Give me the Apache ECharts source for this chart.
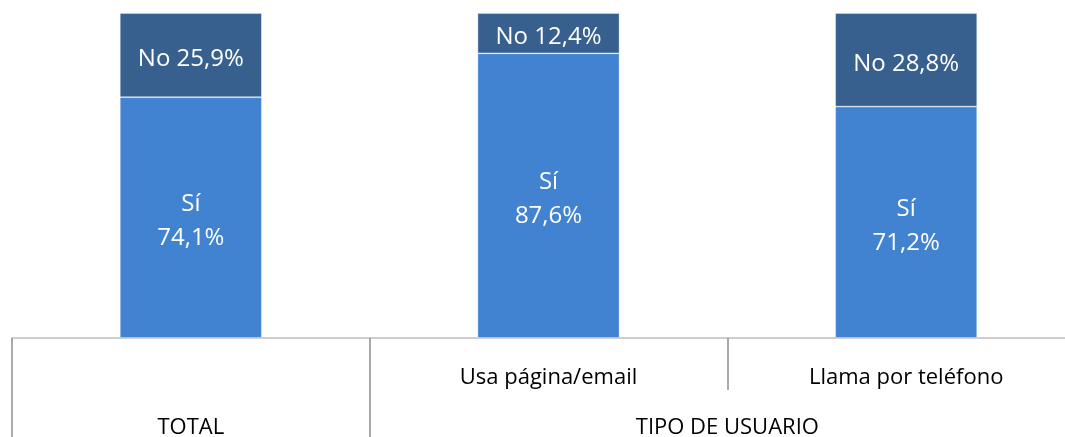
<!DOCTYPE html>
<html>
<head>
<meta charset="utf-8">
<script src="https://cdn.jsdelivr.net/npm/echarts@6/dist/echarts.min.js"></script>
<style>
  html, body { margin: 0; padding: 0; background: #fff; }
  #chart { width: 1065px; height: 437px; }
</style>
</head>
<body>
<div id="chart"></div>
<script>
// categorias (nivel inferior) y grupos (nivel superior)
const categories = ['', 'Usa página/email', 'Llama por teléfono'];
const groupLabels = ['TOTAL', 'TIPO DE USUARIO'];
const groupSpans = [1, 2]; // cuantas categorias abarca cada grupo

const siValues = [74.1, 87.6, 71.2];
const noValues = [25.9, 12.4, 28.8];

const fmt = v => v.toFixed(1).replace('.', ',') + '%';

// limites y centros de los grupos, en unidades de categoria
const groupEdges = [0];
groupSpans.forEach(s => groupEdges.push(groupEdges[groupEdges.length - 1] + s));
const groupCenters = groupSpans.map((s, i) => groupEdges[i] + s / 2);

const chart = echarts.init(document.getElementById('chart'));

const option = {
  animation: false,
  textStyle: { fontFamily: 'Open Sans' },
  grid: {
    left: 12,
    top: 13,
    width: 1073,
    bottom: 99,
    containLabel: false,
    outerBoundsMode: 'none'
  },
  xAxis: [
    {
      type: 'category',
      data: categories,
      position: 'bottom',
      axisLine: { show: true, lineStyle: { color: '#bfbfbf', width: 1.5 } },
      axisTick: { show: true, interval: 0, length: 52, lineStyle: { color: '#8f8f8f', width: 1.5 } },
      axisLabel: { interval: 0, margin: 29, fontSize: 22, color: '#000' }
    },
    {
      type: 'value',
      min: 0,
      max: categories.length,
      position: 'bottom',
      splitLine: { show: false },
      axisLine: { show: false },
      axisTick: {
        show: true,
        customValues: groupEdges,
        length: 99,
        lineStyle: { color: '#8f8f8f', width: 1.5 }
      },
      axisLabel: {
        customValues: groupCenters,
        margin: 79,
        fontSize: 22,
        color: '#000',
        formatter: v => groupLabels[groupCenters.indexOf(v)] || ''
      }
    }
  ],
  yAxis: {
    type: 'value',
    min: 0,
    max: 100,
    show: false
  },
  series: [
    {
      name: 'Sí',
      type: 'bar',
      stack: 'total',
      barWidth: 142,
      data: siValues,
      itemStyle: { color: '#4183d0', borderColor: 'rgba(255,255,255,0.45)', borderWidth: 0.8 },
      label: {
        show: true,
        position: 'inside',
        offset: [0, 4],
        color: '#fff',
        fontSize: 24,
        lineHeight: 34,
        formatter: p => 'Sí\n' + fmt(p.value)
      }
    },
    {
      name: 'No',
      type: 'bar',
      stack: 'total',
      barWidth: 142,
      data: noValues,
      itemStyle: { color: '#37608f', borderColor: 'rgba(255,255,255,0.45)', borderWidth: 0.8 },
      label: {
        show: true,
        position: 'inside',
        offset: [0, 4],
        color: '#fff',
        fontSize: 24,
        formatter: p => 'No ' + fmt(p.value)
      }
    }
  ]
};

chart.setOption(option);
</script>
</body>
</html>
